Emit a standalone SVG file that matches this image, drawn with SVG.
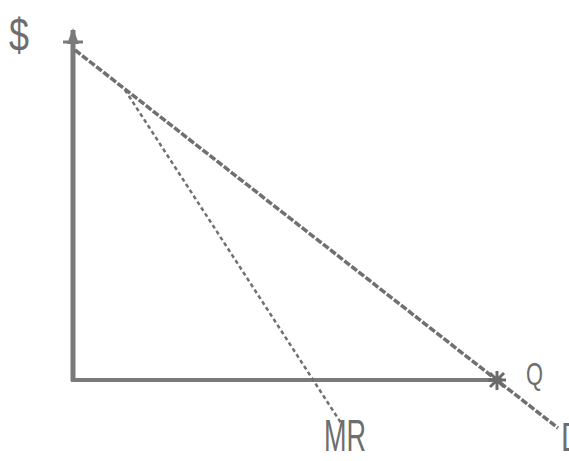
<svg xmlns="http://www.w3.org/2000/svg" width="569" height="461" viewBox="0 0 569 461">
<style>
.t{font-family:"Liberation Sans","DejaVu Sans",sans-serif;fill:#6e6e6e}
.ax{stroke:#7a7a7a;fill:none}
</style>
<rect width="569" height="461" fill="#fff"/>
<g id="axes">
<line class="ax" x1="73" y1="30" x2="73" y2="381" stroke-width="5"/>
<line class="ax" x1="71" y1="380" x2="502" y2="380" stroke-width="4"/>
<path d="M67,44 L73,28 L79,44 Z" fill="#7a7a7a"/>
<path d="M63,42 L83,42" stroke="#7a7a7a" stroke-width="3"/>
</g>
<g id="connectors">
<line id="demand" x1="75" y1="50" x2="558" y2="428" stroke="#707070" stroke-width="3.5" stroke-dasharray="7,2"/>
<line id="mr" x1="125" y1="90" x2="343" y2="426" stroke="#707070" stroke-width="2.5" stroke-dasharray="4,3"/>
<path d="M488,380 L506,380 M497,371 L497,390 M490,373 L504,387 M504,373 L490,387" stroke="#6a6a6a" stroke-width="3"/>
</g>
<g id="labels">
<text class="t" x="9" y="51" font-size="46" textLength="20" lengthAdjust="spacingAndGlyphs">$</text>
<text class="t" x="526" y="385" font-size="32" textLength="17" lengthAdjust="spacingAndGlyphs">Q</text>
<text class="t" x="324" y="451" font-size="45" textLength="42" lengthAdjust="spacingAndGlyphs">MR</text>
<text class="t" x="561" y="451" font-size="40" textLength="22" lengthAdjust="spacingAndGlyphs">D</text>
</g>
</svg>
